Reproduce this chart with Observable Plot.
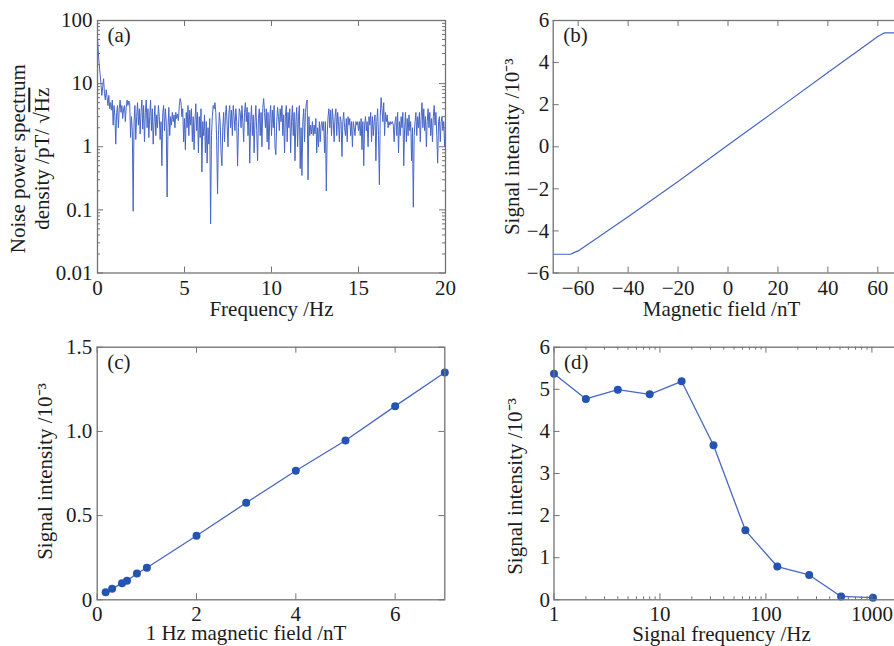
<!DOCTYPE html>
<html><head><meta charset="utf-8">
<script src="https://cdn.jsdelivr.net/npm/d3@7"></script>
<script src="https://cdn.jsdelivr.net/npm/@observablehq/plot@0.6"></script>
<style>
html,body{margin:0;padding:0;background:#fff;overflow:hidden;}
#wrap{position:relative;width:894px;height:646px;overflow:hidden;background:#fff;}
#wrap svg{position:absolute;}
</style></head><body><div id="wrap"></div>
<script>
// ---------- data ----------
// (a) noise spectrum, sampled every 0.05 Hz from 0 Hz (values read from picture, pT/√Hz)
const noiseStartHz = 0;
const noiseStepHz = 0.05;
const noiseDensity = [
55,30,20,14,10,6.5,9,12,7,5.5,8,6,4.5,6.5,4,5,3.8,5.5,2.2,4.5,
3,1.1,3.5,4.5,2,4,5.5,3.5,4.5,2.8,4,4.5,2.5,4.2,5.5,4.5,5.3,5,1.4,3,
1.8,0.095,2.5,4.5,1.3,3,5,2.2,4,1.6,3.5,5.5,1.9,4.5,1.2,3.5,5.5,2,4,1.4,
3,5.5,1.8,4,1.1,2.5,4.5,1.5,3.2,2,4.5,3,1.3,2.5,0.5,3.5,4.5,1.8,4,2.5,
0.16,2,4.2,1.5,3,2.2,3.5,2.5,3.2,2,3.5,2.8,3.3,2.6,4.5,5.8,5,3,4,1.2,
2.8,0.9,3.5,2,4.5,1.5,3.8,2.2,4,1.2,3,0.9,2.5,4.8,1.8,3.5,0.8,3,1.4,4,
0.4,2.5,1.5,3.2,0.8,2.5,0.55,2,1.1,2.8,0.06,1.5,3,4.5,4,5,3.5,1.2,0.18,1.5,
3.5,2.5,0.8,0.5,2,3.5,1.2,3,4.5,2.2,1,3.5,4.5,2,3.8,1.5,4.5,3,1.8,4,
2.5,0.5,2,4,3.5,2,4.5,2.5,1.2,3.5,5,2.5,4.2,1.5,3.5,0.55,2.5,4.5,1.5,3.2,
0.8,2.5,4.5,1.8,0.6,2.8,4,1.5,3.5,1,4.2,5.8,3.5,2,4,1.2,3.5,0.9,2.8,4.5,
1.5,3.8,2,4.5,1,0.75,2.5,4.2,3,1.8,4,2.5,4.5,1.5,3.2,0.8,3,4.5,1.2,3.5,
2,4,0.8,2.5,4.5,1.5,3.5,0.6,2.5,4.2,1,3,4.5,0.45,2,0.35,2.5,4,1.2,3.5,
4.8,5.5,0.3,3,1.5,2.2,1.6,2.5,1.5,2.2,1.6,2.8,0.8,2,1,2.5,1.2,2.2,2.5,1.8,
2.5,0.8,2.5,0.2,1.5,3,4,2,3.8,1.5,4,2.5,1.2,3,4,1.5,3.5,2.5,1.2,3,
2.5,0.7,2.5,3.5,2,1.5,2.8,1.2,3,2.2,2.8,1.5,2.5,1,2.5,2,1.5,2.5,2.2,2.5,
1.8,2.5,1.5,2.8,0.9,2.5,0.5,2.2,3,1.8,2.5,1,3,2.2,3.5,1.2,3,1.5,2.5,3.2,
0.6,2.5,4,1.5,0.25,3,6,4,2.5,5,1.5,3.5,2.5,3.2,2,2.5,2.2,2.5,2.3,2.5,
2.2,1.2,2.5,3,1.5,3.5,0.8,2.5,1.5,3,2,3.5,0.5,2,3.5,1.2,2.8,1.5,3.2,1.8,
2.5,0.6,2,0.11,1.5,2.5,3.5,1.5,3,2,3.5,1.2,3,5,2,4,1.8,3,1,2.5,
4,2,3.5,1.5,2.8,1.2,3,4.5,2.2,3.5,1.5,0.55,2.5,3,1.2,2.5,3,1.8,2.5,1,
2
];
// (b) signal vs static field
const fieldB  = [-70, -63, -61.5, -60, -40, -20, 0, 20, 40, 60, 62.5, 70];
const signalB = [-5.11, -5.11, -5.02, -4.95, -3.33, -1.65, 0.08, 1.8, 3.53, 5.24, 5.41, 5.41];
// (c) signal vs 1 Hz field amplitude
const fieldC  = [0.17, 0.3, 0.5, 0.6, 0.8, 1, 2, 3, 4, 5, 6, 7];
const signalC = [0.045, 0.065, 0.099, 0.113, 0.156, 0.19, 0.38, 0.576, 0.766, 0.946, 1.15, 1.35];
// (d) signal vs frequency
const freqD   = [1, 2, 4, 8, 16, 32, 64, 128, 256, 512, 1024];
const signalD = [5.37, 4.77, 4.99, 4.88, 5.19, 3.67, 1.65, 0.79, 0.59, 0.08, 0.05];
// tick values
const ticksAX = [0, 5, 10, 15, 20];
const ticksAY = [0.01, 0.1, 1, 10, 100];
const ticksBX = [-60, -40, -20, 0, 20, 40, 60];
const ticksBY = [-6, -4, -2, 0, 2, 4, 6];
const ticksCX = [0, 2, 4, 6];
const ticksCY = [0, 0.5, 1.0, 1.5];
const ticksDX = [1, 10, 100, 1000];
const ticksDY = [0, 1, 2, 3, 4, 5, 6];

// ---------- build tables ----------
const noise = noiseDensity.map((v, i) => ({f: noiseStartHz + i * noiseStepHz, v}));
const tableB = fieldB.map((x, i) => ({x, y: signalB[i]}));
const tableC = fieldC.map((x, i) => ({x, y: signalC[i]}));
const tableD = freqD.map((x, i) => ({x, y: signalD[i]}));

// ---------- styling ----------
const INK = "#1c1c1c", FRAME = "#737373", LINE = "#4766c6", DOT = "#2454b2";
const FONT = "'Liberation Serif', 'Times New Roman', serif";
const FS = 21;
const style = {fontFamily: FONT, fontSize: FS + "px", color: INK, background: "transparent", overflow: "visible"};
const wrap = document.getElementById("wrap");
function place(svg, left, top) { svg.style.left = left + "px"; svg.style.top = top + "px"; wrap.appendChild(svg); return svg; }
function logMinor(lo, hi, max = Infinity) { const out = []; for (let e = lo; e < hi; e++) for (let m = 2; m < 10; m++) { const v = m * Math.pow(10, e); if (v < max) out.push(v); } return out; }
function inX(vals, len, fh) {
  return [Plot.tickX(vals, {x: d => d, insetTop: fh - len, stroke: FRAME}),
          Plot.tickX(vals, {x: d => d, insetBottom: fh - len, stroke: FRAME})];
}
function inY(vals, len, fw) {
  return [Plot.tickY(vals, {y: d => d, insetRight: fw - len, stroke: FRAME}),
          Plot.tickY(vals, {y: d => d, insetLeft: fw - len, stroke: FRAME})];
}
const minusFmt = d => d < 0 ? "\u2212" + (-d) : String(d);
const panelLabel = s => Plot.text([s], {frameAnchor: "top-left", dx: 10, dy: 7, textAnchor: "start", lineAnchor: "top", fill: INK, fontSize: FS});
const xTitle = (s, dx, dy) => Plot.text([s], {frameAnchor: "bottom", dx, dy, textAnchor: "middle", lineAnchor: "middle", fill: INK, fontSize: FS});
const yTitle = (s, dx, dy) => Plot.text([s], {frameAnchor: "left", rotate: -90, dx, dy, textAnchor: "middle", lineAnchor: "middle", fill: INK, fontSize: FS});
const xAxis = (ticks, fmt, pad = 7.5) => Plot.axisX(ticks, {tickSize: 0, tickPadding: pad, label: null, tickFormat: fmt, fill: INK, fontSize: FS});
const yAxis = (ticks, fmt, pad) => Plot.axisY(ticks, {tickSize: 0, tickPadding: pad, label: null, tickFormat: fmt, fill: INK, fontSize: FS});

// ---------- (a) ----------
{
  const W = 450, H = 330, mL = 97, mR = 5, mT = 20, mB = 57.5;
  const fw = W - mL - mR, fh = H - mT - mB;
  const svg = Plot.plot({
    width: W, height: H, marginLeft: mL, marginRight: mR, marginTop: mT, marginBottom: mB, style,
    x: {domain: [0, 20]},
    y: {type: "log", domain: [0.01, 100]},
    marks: [
      Plot.line(noise, {x: "f", y: "v", stroke: LINE, strokeWidth: 1, clip: true}),
      ...inX(ticksAX, 6, fh),
      ...inY(ticksAY, 6, fw),
      ...inY(logMinor(-2, 2), 3, fw),
      Plot.frame({stroke: FRAME, strokeWidth: 1.3}),
      xAxis(ticksAX, minusFmt),
      yAxis(ticksAY, d => String(d), 5),
      panelLabel("(a)"),
      xTitle("Frequency /Hz", 0, 36),
      yTitle("Noise power spectrum", -79, 12),
      yTitle("density /pT/ \u221AHz", -55, 12)
    ]
  });
  place(svg, 0, 0);
  d3.select(svg).selectAll("text").filter(function() { return this.textContent === "density /pT/ \u221AHz"; })
    .each(function() {
      const t = d3.select(this);
      t.text(null);
      t.append("tspan").text("density /pT/ \u221A");
      t.append("tspan").style("text-decoration", "overline").text("Hz");
    });
}

// ---------- (b) ----------
{
  const W = 460, H = 330, mL = 102.7, mR = 7.7, mT = 20, mB = 57.5;
  const fw = W - mL - mR, fh = H - mT - mB;
  const svg = Plot.plot({
    width: W, height: H, marginLeft: mL, marginRight: mR, marginTop: mT, marginBottom: mB, style,
    x: {domain: [-70, 70]},
    y: {domain: [-6, 6]},
    marks: [
      Plot.line(tableB, {x: "x", y: "y", stroke: LINE, strokeWidth: 1.2, clip: true}),
      ...inX(ticksBX, 6, fh),
      ...inY(ticksBY, 6, fw),
      Plot.frame({stroke: FRAME, strokeWidth: 1.3}),
      xAxis(ticksBX, minusFmt),
      yAxis(ticksBY, minusFmt, 4),
      panelLabel("(b)"),
      xTitle("Magnetic field /nT", -6.5, 36),
      yTitle("Signal intensity /10\u207B\u00B3", -40.7, 0)
    ]
  });
  place(svg, 450, 0);
}

// ---------- (c) ----------
{
  const W = 450, H = 323, mL = 96.7, mR = 5.7, mT = 23.7, mB = 46.7;
  const fw = W - mL - mR, fh = H - mT - mB;
  const svg = Plot.plot({
    width: W, height: H, marginLeft: mL, marginRight: mR, marginTop: mT, marginBottom: mB, style,
    x: {domain: [0, 7]},
    y: {domain: [0, 1.5]},
    marks: [
      Plot.line(tableC, {x: "x", y: "y", stroke: LINE, strokeWidth: 1.3}),
      Plot.dot(tableC, {x: "x", y: "y", r: 4, fill: DOT}),
      ...inX(ticksCX, 6, fh),
      ...inY(ticksCY, 6, fw),
      Plot.frame({stroke: FRAME, strokeWidth: 1.3}),
      xAxis(ticksCX, d => String(d), 6.5),
      yAxis(ticksCY, d => d === 0 ? "0" : d.toFixed(1), 5),
      panelLabel("(c)"),
      xTitle("1 Hz magnetic field /nT", -25, 33),
      yTitle("Signal intensity /10\u207B\u00B3", -51.7, -2)
    ]
  });
  place(svg, 0, 323);
}

// ---------- (d) ----------
{
  const W = 460, H = 323, mL = 103.5, mR = 6.7, mT = 23.7, mB = 46.7;
  const fw = W - mL - mR, fh = H - mT - mB;
  const svg = Plot.plot({
    width: W, height: H, marginLeft: mL, marginRight: mR, marginTop: mT, marginBottom: mB, style,
    x: {type: "log", domain: [1, 2000]},
    y: {domain: [0, 6]},
    marks: [
      Plot.line(tableD, {x: "x", y: "y", stroke: LINE, strokeWidth: 1.3}),
      Plot.dot(tableD, {x: "x", y: "y", r: 4, fill: DOT}),
      ...inX(ticksDX, 6, fh),
      ...inX(logMinor(0, 4, 2000), 3, fh),
      ...inY(ticksDY, 6, fw),
      Plot.frame({stroke: FRAME, strokeWidth: 1.3}),
      xAxis(ticksDX, d => String(d), 6.5),
      yAxis(ticksDY, d => String(d), 4),
      panelLabel("(d)"),
      xTitle("Signal frequency /Hz", -7.4, 34),
      yTitle("Signal intensity /10\u207B\u00B3", -38.5, 13)
    ]
  });
  place(svg, 450, 323);
}
</script></body></html>
